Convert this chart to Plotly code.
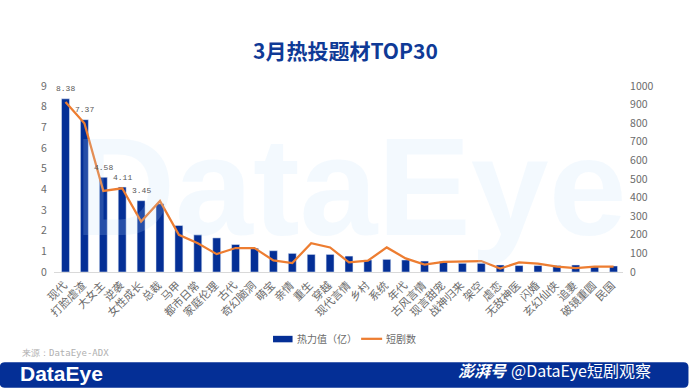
import plotly.graph_objects as go

categories = ["现代","打脸虐渣","大女主","逆袭","女性成长","总裁","马甲","都市日常","家庭伦理","古代","奇幻脑洞","萌宝","亲情","重生","穿越","现代言情","乡村","系统","年代","古风言情","现言甜宠","战神归来","架空","虐恋","无敌神医","闪婚","玄幻仙侠","追妻","破镜重圆","民国"]
heat = [8.38,7.37,4.58,4.11,3.45,3.3,2.25,1.8,1.65,1.33,1.15,1.03,0.9,0.85,0.85,0.77,0.58,0.61,0.58,0.53,0.5,0.42,0.42,0.34,0.31,0.31,0.31,0.34,0.26,0.29]
dramas = [914,800,436,450,271,382,200,155,96,129,129,62,48,155,132,52,61,132,73,40,55,57,59,18,52,45,29,21,29,29]
labelled = 5

CJK = "Noto Sans CJK SC"
GREY = "#6b6b6b"
BLUE = "#042f96"
ORANGE = "#ed7d31"
L, W, B, H = 54.2, 568.4, 272.0, 186.5

def px(x):
    return (x - L) / W

def py(y):
    return (B - y) / H

fig = go.Figure()
fig.add_trace(go.Bar(x=categories, y=heat, name="热力值（亿）", marker_color=BLUE))
fig.add_trace(go.Scatter(x=categories, y=dramas, name="短剧数", mode="lines", yaxis="y2",
                         line=dict(color=ORANGE, width=2.25), cliponaxis=False))

footer = (f"M {px(5)} {py(362.5)} H {px(683)} Q {px(688)} {py(362.5)} {px(688)} {py(367.5)} "
          f"V {py(383)} Q {px(688)} {py(388)} {px(683)} {py(388)} H {px(5)} "
          f"Q {px(0)} {py(388)} {px(0)} {py(383)} V {py(367.5)} Q {px(0)} {py(362.5)} {px(5)} {py(362.5)} Z")
shapes = [
    dict(type="path", xref="paper", yref="paper", path=footer, fillcolor=BLUE, line_width=0, layer="below"),
    dict(type="rect", xref="paper", yref="paper", x0=px(273), x1=px(292.5), y0=py(342.5), y1=py(336),
         fillcolor=BLUE, line_width=0),
    dict(type="line", xref="paper", yref="paper", x0=px(361), x1=px(382), y0=py(339), y1=py(339),
         line=dict(color=ORANGE, width=2.25)),
]

def note(text, x, y, size, color, family=CJK, anchor="left", **kw):
    return dict(text=text, xref="paper", yref="paper", x=px(x), y=py(y),
                xanchor=anchor, yanchor="middle", showarrow=False,
                font=dict(size=size, color=color, family=family), **kw)

annotations = [
    note("<b>DataEye</b>", 350, 186, 140, "rgba(190,220,250,0.18)", "Liberation Sans", "center"),
    note("<b>3月热投题材TOP30</b>", 345, 49, 21, "#0f3a96", CJK, "center"),
    note("热力值（亿）", 295, 339, 10, GREY),
    note("短剧数", 384, 339, 10, GREY),
    note("来源：DataEye-ADX", 20, 353, 9, "#b0b0b0", "DejaVu Sans Mono"),
    note("<b>DataEye</b>", 18, 374, 21, "#ffffff", "Liberation Sans"),
    note("<b><i>澎湃号</i></b>", 456, 370, 16, "#ffffff", CJK),
    note("@DataEye短剧观察", 509, 370, 16, "#ffffff", CJK),
]
for cat, val in zip(categories[:labelled], heat[:labelled]):
    annotations.append(dict(x=cat, y=val, xref="x", yref="y", text=f"{val:.2f}", showarrow=False,
                            yshift=10, font=dict(size=8, color="#595959", family="Liberation Mono")))

fig.update_layout(
    width=690, height=388, margin=dict(l=54.2, r=67.4, t=85.5, b=116),
    plot_bgcolor="white", paper_bgcolor="rgba(0,0,0,0)", showlegend=False, bargap=0.58,
    font=dict(family=CJK, color=GREY, size=10),
    xaxis=dict(type="category", tickangle=-45, tickfont=dict(size=11, color=GREY), ticks="",
               tickvals=categories, ticktext=[c + "\u2009" for c in categories],
               showline=True, linecolor="#d9d9d9", linewidth=1, automargin=False),
    yaxis=dict(range=[0, 9], dtick=1, showgrid=False, zeroline=False, tickfont=dict(size=10.5, color=GREY),
               ticks="outside", ticklen=4, tickcolor="rgba(0,0,0,0)", automargin=False),
    yaxis2=dict(range=[0, 1000], dtick=100, overlaying="y", side="right", showgrid=False, zeroline=False,
                tickfont=dict(size=10.5, color=GREY), ticks="outside", ticklen=4, tickcolor="rgba(0,0,0,0)", automargin=False),
    shapes=shapes, annotations=annotations,
)
fig.write_html("out.html", config={"displayModeBar": False},
               post_script="document.body.style.margin='0';document.body.style.overflow='hidden';")
